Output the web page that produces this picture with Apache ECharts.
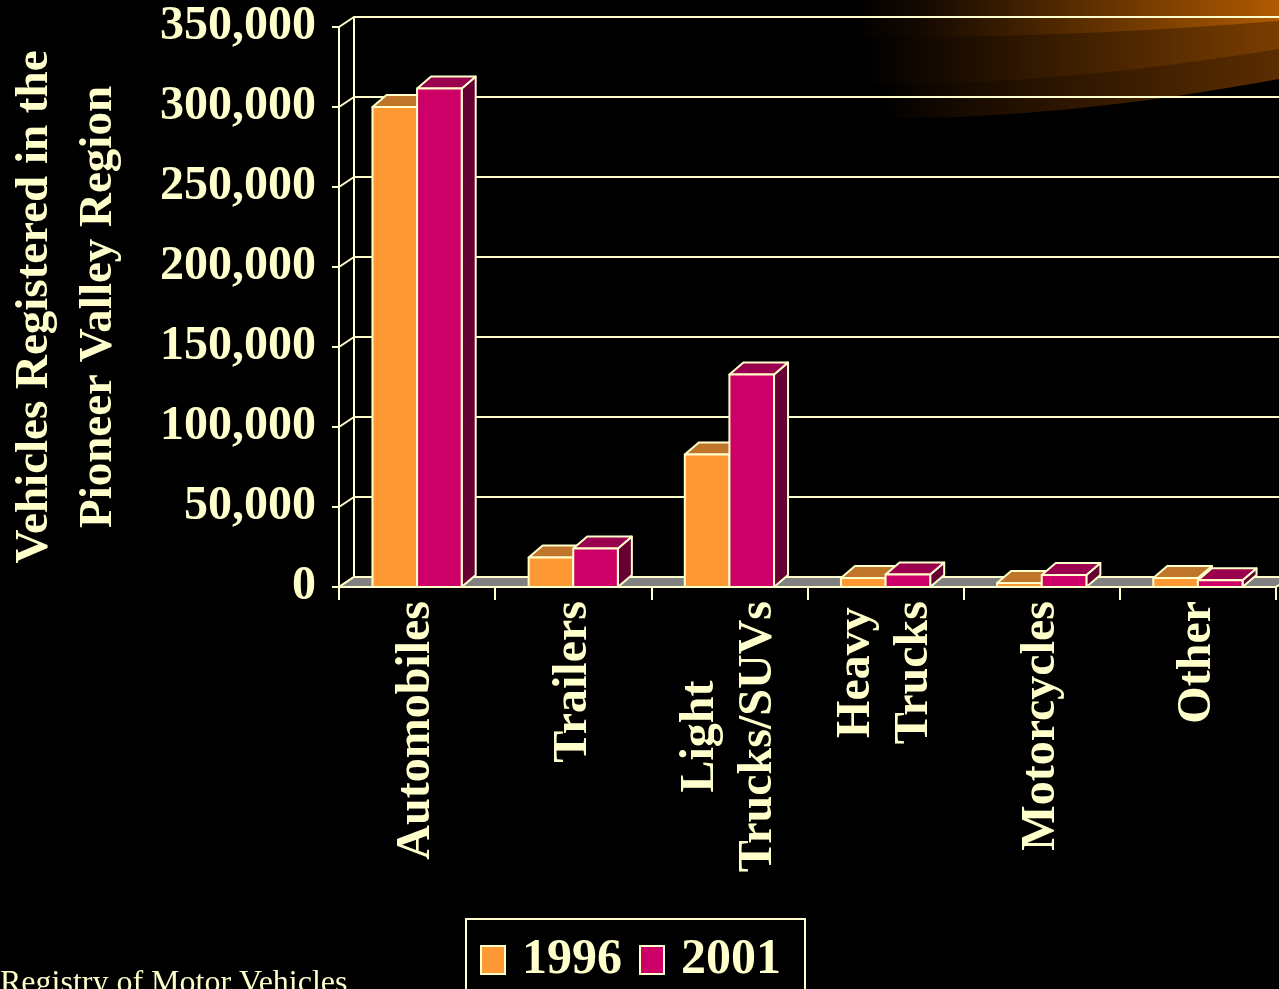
<!DOCTYPE html>
<html>
<head>
<meta charset="utf-8">
<script src="https://cdn.jsdelivr.net/npm/echarts@6/dist/echarts.min.js"></script>
<style>
  html, body { margin: 0; padding: 0; background: #000; }
  #chart { width: 1279px; height: 989px; }
</style>
</head>
<body>
<div id="chart"></div>
<script>
// Vehicle registrations by type, Pioneer Valley region
const categories = ['Automobiles', 'Trailers', 'Light\nTrucks/SUVs', 'Heavy\nTrucks', 'Motorcycles', 'Other'];
const values1996 = [300000, 18500, 82800, 5600, 2500, 5600];
const values2001 = [311500, 24000, 132800, 7800, 7500, 4200];
const yTicks = [0, 50000, 100000, 150000, 200000, 250000, 300000, 350000];
const seriesNames = ['1996', '2001'];

const CREAM = '#FFFFCC';
const FONT = "'Liberation Serif', 'Times New Roman', serif";
// depth offsets for the pseudo-3D look
const WALL_DX = 15, WALL_DY = -10;
const BAR_DX = 14, BAR_DY = -12;

const palettes = [
  { front: '#FF9933', top: '#C0762A', side: '#9A5A1E' },
  { front: '#CC0066', top: '#99004D', side: '#660033' }
];

function fmt(v) { return v.toLocaleString('en-US'); }

// A column drawn as a box: front face, top face and right side face
function barRenderer(seriesIdx) {
  return function (params, api) {
    const idx = api.value(0);
    const val = api.value(1);
    const base = api.coord([idx, 0]);
    const topPt = api.coord([idx, val]);
    const bw = api.size([1, 0])[0] / 3.5;
    const x0 = seriesIdx === 0 ? base[0] - bw : base[0];
    const yB = base[1], yT = topPt[1];
    const pal = palettes[seriesIdx];
    const stroke = { stroke: CREAM, lineWidth: 2, lineJoin: 'round' };
    return {
      type: 'group',
      children: [
        { type: 'polygon',
          shape: { points: [[x0 + bw, yT], [x0 + bw, yB], [x0 + bw + BAR_DX, yB + BAR_DY], [x0 + bw + BAR_DX, yT + BAR_DY]] },
          style: Object.assign({ fill: pal.side }, stroke) },
        { type: 'polygon',
          shape: { points: [[x0, yT], [x0 + bw, yT], [x0 + bw + BAR_DX, yT + BAR_DY], [x0 + BAR_DX, yT + BAR_DY]] },
          style: Object.assign({ fill: pal.top }, stroke) },
        { type: 'rect',
          shape: { x: x0, y: yT, width: bw, height: yB - yT },
          style: Object.assign({ fill: pal.front }, stroke) }
      ]
    };
  };
}

// Floor plane and the left wall's diagonal tick connectors
function frameRenderer(params, api) {
  const cs = params.coordSys;
  const left = cs.x, right = cs.x + cs.width;
  const children = [];
  yTicks.forEach(function (t) {
    const y = api.coord([0, t])[1];
    children.push({ type: 'line',
      shape: { x1: left, y1: y, x2: left + WALL_DX, y2: y + WALL_DY },
      style: { stroke: CREAM, lineWidth: 2 } });
  });
  const y0 = api.coord([0, 0])[1];
  children.push({ type: 'polygon',
    shape: { points: [[left, y0], [right, y0], [right + WALL_DX, y0 + WALL_DY], [left + WALL_DX, y0 + WALL_DY]] },
    style: { fill: '#808080', stroke: CREAM, lineWidth: 2 } });
  return { type: 'group', children: children };
}

const chart = echarts.init(document.getElementById('chart'));

// Decorative swoosh band in the top-right corner: top edge straight, lower edge curved
function swoosh(yLeft, yRight, xLeft, colorRight) {
  const pts = [[xLeft, 0], [1290, 0]];
  const cx = 1060, cy = yLeft + 2;
  for (let i = 0; i <= 24; i++) {
    const t = i / 24;
    const x = (1 - t) * (1 - t) * 1290 + 2 * (1 - t) * t * cx + t * t * xLeft;
    const y = (1 - t) * (1 - t) * yRight + 2 * (1 - t) * t * cy + t * t * yLeft;
    pts.push([x, y]);
  }
  return {
    type: 'polygon',
    z: -100,
    silent: true,
    shape: { points: pts },
    style: {
      fill: {
        type: 'linear', x: 0, y: 0, x2: 1, y2: 0,
        colorStops: [
          { offset: 0, color: '#000000' },
          { offset: 0.15, color: '#120800' },
          { offset: 1, color: colorRight }
        ]
      }
    }
  };
}

const option = {
  backgroundColor: '#000000',
  animation: false,
  textStyle: { fontFamily: FONT },
  graphic: [
    swoosh(118, 77, 880, '#5E2E00'),
    swoosh(84, 47, 862, '#7E3F00'),
    swoosh(37, 20, 850, '#B55D00'),
    { type: 'text', left: 0, top: 968,
      style: { text: 'Registry of Motor Vehicles', fill: CREAM, font: '32px ' + FONT } }
  ],
  legend: {
    left: 466, top: 919,
    orient: 'horizontal',
    data: seriesNames,
    icon: 'rect',
    itemWidth: 24, itemHeight: 28, itemGap: 17,
    padding: [16, 24, 40, 14],
    borderColor: CREAM, borderWidth: 2,
    itemStyle: { borderColor: CREAM, borderWidth: 2 },
    textStyle: { color: CREAM, fontSize: 50, fontWeight: 'bold', fontFamily: FONT, padding: [0, 0, 0, 12] }
  },
  grid: [
    { left: 339, top: 27, right: 3, bottom: 402, outerBoundsMode: 'none', containLabel: false },
    { left: 339 + WALL_DX, top: 27 + WALL_DY, right: -20, bottom: 402 - WALL_DY, outerBoundsMode: 'none', containLabel: false }
  ],
  xAxis: [
    { type: 'category', gridIndex: 0, data: categories, boundaryGap: true,
      axisLine: { show: true, lineStyle: { color: CREAM, width: 2 } },
      axisTick: { show: true, length: 13, lineStyle: { color: CREAM, width: 2 } },
      axisLabel: {
        rotate: 90, margin: 14, interval: 0,
        formatter: function (v) { return v.split('\n').map(function (s) { return '{c|' + s + '}'; }).join('\n'); },
        rich: { c: { align: 'center', color: CREAM, fontSize: 48, fontWeight: 'bold', fontFamily: FONT, lineHeight: 58 } }
      },
      splitLine: { show: false } },
    { type: 'category', gridIndex: 1, data: categories, show: false }
  ],
  yAxis: [
    { type: 'value', gridIndex: 0, min: 0, max: 350000, interval: 50000,
      name: 'Vehicles Registered in the\nPioneer Valley Region',
      nameLocation: 'middle', nameRotate: 90, nameGap: 208,
      nameTextStyle: { color: CREAM, fontSize: 47, fontWeight: 'bold', fontFamily: FONT, lineHeight: 64, align: 'center' },
      axisLine: { show: true, lineStyle: { color: CREAM, width: 2 } },
      axisTick: { show: true, length: 7, lineStyle: { color: CREAM, width: 2 } },
      axisLabel: { formatter: fmt, margin: 23, color: CREAM, fontSize: 48, fontWeight: 'bold', fontFamily: FONT },
      splitLine: { show: false } },
    { type: 'value', gridIndex: 1, min: 0, max: 350000, interval: 50000,
      axisLine: { show: true, lineStyle: { color: CREAM, width: 2 } },
      axisTick: { show: false }, axisLabel: { show: false },
      splitLine: { show: true, lineStyle: { color: CREAM, width: 2 } } }
  ],
  series: [
    { type: 'custom', name: 'frame', xAxisIndex: 0, yAxisIndex: 0, z: 1,
      renderItem: frameRenderer, data: [[0, 0]], silent: true },
    { type: 'custom', name: seriesNames[0], xAxisIndex: 0, yAxisIndex: 0, z: 3,
      itemStyle: { color: palettes[0].front },
      renderItem: barRenderer(0), encode: { x: 0, y: 1 },
      data: values1996.map(function (v, i) { return [i, v]; }) },
    { type: 'custom', name: seriesNames[1], xAxisIndex: 0, yAxisIndex: 0, z: 4,
      itemStyle: { color: palettes[1].front },
      renderItem: barRenderer(1), encode: { x: 0, y: 1 },
      data: values2001.map(function (v, i) { return [i, v]; }) }
  ]
};

chart.setOption(option);
</script>
</body>
</html>
